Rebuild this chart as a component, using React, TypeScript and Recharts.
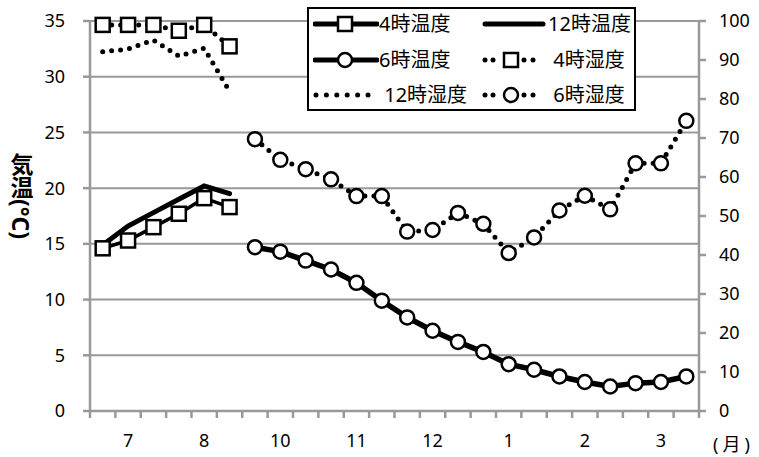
import { ComposedChart, Line, XAxis, YAxis, CartesianGrid, Legend, Label } from 'recharts';

// 旬ごとの観測値（7・8月と10〜3月）
const months = ['7', '8', '10', '11', '12', '1', '2', '3'];
const periods = ['上旬', '中旬', '下旬'];

// 7月上旬〜8月下旬
const temp4 = [14.6, 15.3, 16.5, 17.7, 19.1, 18.3];
const temp12 = [14.9, 16.6, 17.8, 19.0, 20.2, 19.5];
const humid4 = [99, 99, 99, 97.5, 99, 93.5];
const humid12 = [92.1, 92.8, 95.1, 91.0, 93.0, 82];

// 10月上旬〜3月下旬
const temp6 = [14.7, 14.3, 13.5, 12.7, 11.5, 9.9, 8.4, 7.2, 6.2, 5.3, 4.2, 3.7, 3.1, 2.6, 2.2, 2.5, 2.6, 3.1];
const humid6 = [69.7, 64.4, 62.0, 59.4, 55.1, 55.1, 46.0, 46.4, 50.8, 48.0, 40.5, 44.5, 51.4, 55.2, 51.7, 63.5, 63.5, 74.4];

const tempTicks = [0, 5, 10, 15, 20, 25, 30, 35];
const humidTicks = [0, 10, 20, 30, 40, 50, 60, 70, 80, 90, 100];

const OCT_START = 6; // index of 10月上旬

const categories = months.flatMap(m => periods.map(p => ({ month: m, period: p })));

const data = categories.map((c, i) => ({
  name: `${c.month}月${c.period}`,
  month: c.month,
  mid: c.period === '中旬',
  t4: i < temp4.length ? temp4[i] : null,
  t12: i < temp12.length ? temp12[i] : null,
  h4: i < humid4.length ? humid4[i] : null,
  h12: i < humid12.length ? humid12[i] : null,
  t6: i >= OCT_START ? temp6[i - OCT_START] : null,
  h6: i >= OCT_START ? humid6[i - OCT_START] : null,
}));

const W = 759;
const H = 457;
const LEFT_W = 90;
const RIGHT_W = 60;
const BAND = (W - LEFT_W - RIGHT_W) / categories.length;
const GRAY = '#999';
const FONT = '"Noto Sans", "Noto Sans CJK JP", sans-serif';

const SquareDot = (props: any) => {
  const { cx, cy, value } = props;
  if (cx == null || cy == null || value == null) return <g />;
  return <rect x={cx - 7} y={cy - 7} width={14} height={14} fill="#fff" stroke="#000" strokeWidth={2.5} />;
};

const CircleDot = (props: any) => {
  const { cx, cy, value } = props;
  if (cx == null || cy == null || value == null) return <g />;
  return <circle cx={cx} cy={cy} r={7} fill="#fff" stroke="#000" strokeWidth={2.5} />;
};

const MonthTick = (props: any) => {
  const { x, y, payload, index } = props;
  const half = payload?.offset || BAND / 2;
  const row = data[index];
  const last = index === data.length - 1;
  return (
    <g>
      <line x1={x - half} x2={x - half} y1={y} y2={y + 7} stroke={GRAY} strokeWidth={2.5} />
      {last && <line x1={x + half} x2={x + half} y1={y} y2={y + 7} stroke={GRAY} strokeWidth={2.5} />}
      {row?.mid && (
        <text x={x} y={y + 36} textAnchor="middle" fontSize={18} fontFamily={FONT} fill="#000">
          {row.month}
        </text>
      )}
      {last && (
        <text x={x + half + 14} y={y + 40} fontSize={18} fontFamily={FONT} fill="#000" letterSpacing={4}>
          (月)
        </text>
      )}
    </g>
  );
};

// 縦書きの軸タイトル
const AxisTitle = () => (
  <text
    x={21}
    y={153}
    fontSize={23}
    fontWeight={700}
    fontFamily={FONT}
    fill="#000"
    style={{ writingMode: 'vertical-rl' }}
  >
    気温(°C)
  </text>
);

const dots = (xs: number[]) => xs.map(x => <circle key={x} cx={x} cy={10} r={2.5} fill="#000" />);

const legendItems = [
  { label: '4時温度', left: 4, top: 15, icon: (
    <>
      <line x1={2} x2={64} y1={10} y2={10} stroke="#000" strokeWidth={5} strokeLinecap="round" />
      <rect x={25} y={3} width={14} height={14} fill="#fff" stroke="#000" strokeWidth={2.5} />
    </>
  ) },
  { label: '12時温度', left: 173, top: 15, icon: (
    <line x1={3} x2={61} y1={10} y2={10} stroke="#000" strokeWidth={5} strokeLinecap="round" />
  ) },
  { label: '6時温度', left: 4, top: 51, icon: (
    <>
      <line x1={2} x2={64} y1={10} y2={10} stroke="#000" strokeWidth={5} strokeLinecap="round" />
      <circle cx={32} cy={10} r={7} fill="#fff" stroke="#000" strokeWidth={2.5} />
    </>
  ) },
  { label: ' 4時湿度', left: 173, top: 51, icon: (
    <>
      {dots([3, 11, 42, 51])}
      <rect x={22} y={3} width={14} height={14} fill="#fff" stroke="#000" strokeWidth={2.5} />
    </>
  ) },
  { label: ' 12時湿度', left: 4, top: 86, icon: <>{dots([3, 13.4, 23.8, 34.2, 44.6, 55])}</> },
  { label: ' 6時湿度', left: 173, top: 86, icon: (
    <>
      {dots([3, 11, 42, 51])}
      <circle cx={29} cy={10} r={7} fill="#fff" stroke="#000" strokeWidth={2.5} />
    </>
  ) },
];

const LegendBox = () => (
  <div style={{ position: 'relative', width: '100%', height: '100%' }}>
    {legendItems.map(item => (
      <div
        key={item.label}
        style={{
          position: 'absolute', left: item.left, top: item.top - 10, height: 20,
          display: 'flex', alignItems: 'center', whiteSpace: 'pre',
          fontFamily: FONT, fontSize: 20, lineHeight: 1, color: '#000',
        }}
      >
        <svg width={66} height={20} style={{ display: 'block' }}>{item.icon}</svg>
        <span>{item.label}</span>
      </div>
    ))}
  </div>
);

export default function App() {
  return (
    <div style={{ width: W, height: H }}>
      <style>{'body{margin:0}'}</style>
      <ComposedChart width={W} height={H} data={data} margin={{ top: 21, right: 0, bottom: 0, left: 0 }}>
        <CartesianGrid yAxisId="left" vertical={false} stroke={GRAY} strokeWidth={2} />
        <XAxis
          dataKey="name"
          scale="band"
          interval={0}
          height={H - 411}
          tickLine={false}
          tickSize={0}
          tickMargin={0}
          axisLine={{ stroke: GRAY, strokeWidth: 2.5 }}
          tick={<MonthTick />}
        />
        <YAxis
          yAxisId="left"
          width={LEFT_W}
          domain={[0, 35]}
          ticks={tempTicks}
          interval={0}
          tickSize={7}
          tickMargin={18}
          axisLine={{ stroke: GRAY, strokeWidth: 2.5 }}
          tickLine={{ stroke: GRAY, strokeWidth: 2.5 }}
          tick={{ fill: '#000', fontSize: 18, fontFamily: FONT }}
        >
          <Label content={() => <AxisTitle />} />
        </YAxis>
        <YAxis
          yAxisId="right"
          orientation="right"
          width={RIGHT_W}
          domain={[0, 100]}
          ticks={humidTicks}
          interval={0}
          tickSize={7}
          tickMargin={13}
          axisLine={{ stroke: GRAY, strokeWidth: 2.5 }}
          tickLine={{ stroke: GRAY, strokeWidth: 2.5 }}
          tick={{ fill: '#000', fontSize: 18, fontFamily: FONT, textAnchor: 'start' }}
        />
        <Legend
          layout="vertical"
          align="center"
          verticalAlign="middle"
          content={<LegendBox />}
          wrapperStyle={{
            left: 307, top: 7, width: 329, height: 104,
            border: '2px solid #000', boxSizing: 'border-box', background: '#fff',
          }}
        />
        <Line yAxisId="right" dataKey="h12" name="12時湿度" stroke="#000" strokeWidth={5}
          strokeDasharray="0 9" strokeLinecap="round" dot={false} isAnimationActive={false} />
        <Line yAxisId="right" dataKey="h4" name="4時湿度" stroke="#000" strokeWidth={5}
          strokeDasharray="0 9" strokeLinecap="round" dot={<SquareDot />} isAnimationActive={false} />
        <Line yAxisId="right" dataKey="h6" name="6時湿度" stroke="#000" strokeWidth={5}
          strokeDasharray="0 9" strokeLinecap="round" dot={<CircleDot />} isAnimationActive={false} />
        <Line yAxisId="left" dataKey="t12" name="12時温度" stroke="#000" strokeWidth={5}
          strokeLinecap="round" dot={false} isAnimationActive={false} />
        <Line yAxisId="left" dataKey="t4" name="4時温度" stroke="#000" strokeWidth={3.5}
          dot={<SquareDot />} isAnimationActive={false} />
        <Line yAxisId="left" dataKey="t6" name="6時温度" stroke="#000" strokeWidth={5.5}
          dot={<CircleDot />} isAnimationActive={false} />
      </ComposedChart>
    </div>
  );
}
